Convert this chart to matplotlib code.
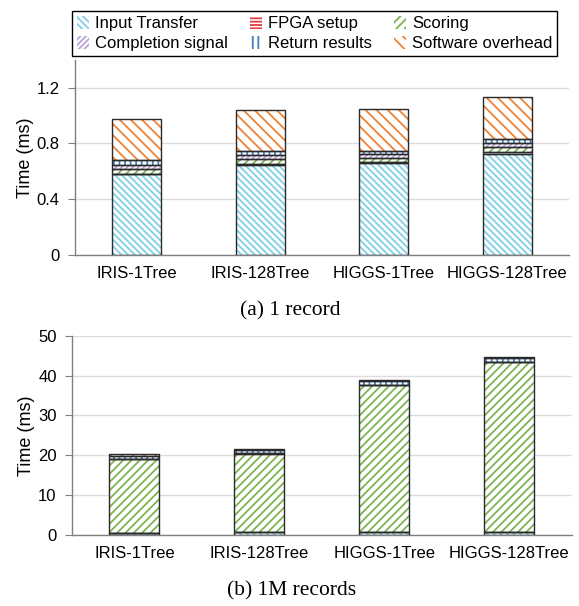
import matplotlib
matplotlib.use("Agg")
import matplotlib.pyplot as plt
import numpy as np
from matplotlib.patches import Patch

plt.rcParams['font.family'] = ['Liberation Sans', 'DejaVu Sans']
plt.rcParams['hatch.linewidth'] = 1.3

categories = ["IRIS-1Tree", "IRIS-128Tree", "HIGGS-1Tree", "HIGGS-128Tree"]
components = ["Input Transfer", "FPGA setup", "Scoring", "Completion signal",
              "Return results", "Software overhead"]

# (a) 1 record, ms
rec1_input = [0.577, 0.648, 0.658, 0.727]
rec1_fpga = [0.005, 0.005, 0.005, 0.008]
rec1_scoring = [0.036, 0.034, 0.033, 0.040]
rec1_completion = [0.030, 0.033, 0.026, 0.025]
rec1_return = [0.031, 0.024, 0.024, 0.030]
rec1_software = [0.299, 0.299, 0.304, 0.303]

# (b) 1M records, ms
rec1m_input = [0.60, 0.65, 0.66, 0.72]
rec1m_fpga = [0.005, 0.005, 0.005, 0.005]
rec1m_scoring = [18.45, 19.75, 37.0, 42.7]
rec1m_completion = [0.05, 0.05, 0.05, 0.05]
rec1m_return = [0.80, 0.80, 0.95, 0.90]
rec1m_software = [0.30, 0.30, 0.30, 0.30]

styles = [
    ("#7fd0e6", "\\\\\\\\\\"),   # Input Transfer
    ("#e04040", "-----"),    # FPGA setup
    ("#78b450", "////"),     # Scoring
    ("#b8a2d6", "//////"),   # Completion signal
    ("#3f7fc0", "|||"),      # Return results
    ("#ee8235", "\\\\\\"),   # Software overhead
]

fig = plt.figure(figsize=(5.79, 6.06), dpi=100)
ax1 = fig.add_axes([75/579, 1-254.7/606, 494/579, (254.7-60)/606])
ax2 = fig.add_axes([72/579, 1-535/606, 499.8/579, (535-335.7)/606])

def draw(ax, series, ylim, yticks, ylabels):
    x = np.arange(len(categories))
    bottom = np.zeros(len(categories))
    for vals, (col, hatch) in zip(series, styles):
        vals = np.array(vals)
        ax.bar(x, vals, 0.4, bottom=bottom, color="white", edgecolor=col,
               hatch=hatch, linewidth=0, zorder=2)
        ax.bar(x, vals, 0.4, bottom=bottom, fill=False, edgecolor="#2a2a2a",
               linewidth=1.0, zorder=3)
        bottom += vals
    ax.set_xlim(-0.5, 3.5)
    ax.set_ylim(*ylim)
    ax.set_yticks(yticks)
    ax.set_yticklabels(ylabels, fontsize=12)
    ax.set_xticks(x)
    ax.set_xticklabels(categories, fontsize=12)
    ax.tick_params(axis='x', length=0, pad=8)
    ax.tick_params(axis='y', length=5, color="#808080", width=0.8, pad=6)
    ax.yaxis.grid(True, color="#dddddd", linewidth=1.0, zorder=0)
    ax.set_axisbelow(True)
    for s in ["top", "right"]:
        ax.spines[s].set_visible(False)
    for s in ["left", "bottom"]:
        ax.spines[s].set_color("#808080")
        ax.spines[s].set_linewidth(1.0)
    ax.set_ylabel("Time (ms)", fontsize=13, labelpad=2)

draw(ax1, [rec1_input, rec1_fpga, rec1_scoring, rec1_completion, rec1_return, rec1_software],
     (0, 1.4), [0, 0.4, 0.8, 1.2], ["0", "0.4", "0.8", "1.2"])
draw(ax2, [rec1m_input, rec1m_fpga, rec1m_scoring, rec1m_completion, rec1m_return, rec1m_software],
     (0, 50), [0, 10, 20, 30, 40, 50], ["0", "10", "20", "30", "40", "50"])

handles = [Patch(facecolor="white", edgecolor=c, hatch=h, linewidth=0) for c, h in styles]
order = [0, 3, 1, 4, 2, 5]
fig.legend([handles[i] for i in order], [components[i] for i in order],
           loc="upper center", bbox_to_anchor=((69+560)/2/579, 1-3/606),
           ncol=3, fontsize=12, frameon=True, fancybox=False, edgecolor="black",
           framealpha=1, handlelength=0.75, handleheight=0.75, handletextpad=0.35,
           columnspacing=1.3, labelspacing=0.3, borderpad=0.3)

fig.text(290/579, 1-311/606, "(a) 1 record", ha="center", va="center",
         fontsize=15.5, family="Liberation Serif")
fig.text(292/579, 1-591/606, "(b) 1M records", ha="center", va="center",
         fontsize=15.5, family="Liberation Serif")

fig.savefig("out.png", dpi=100)
